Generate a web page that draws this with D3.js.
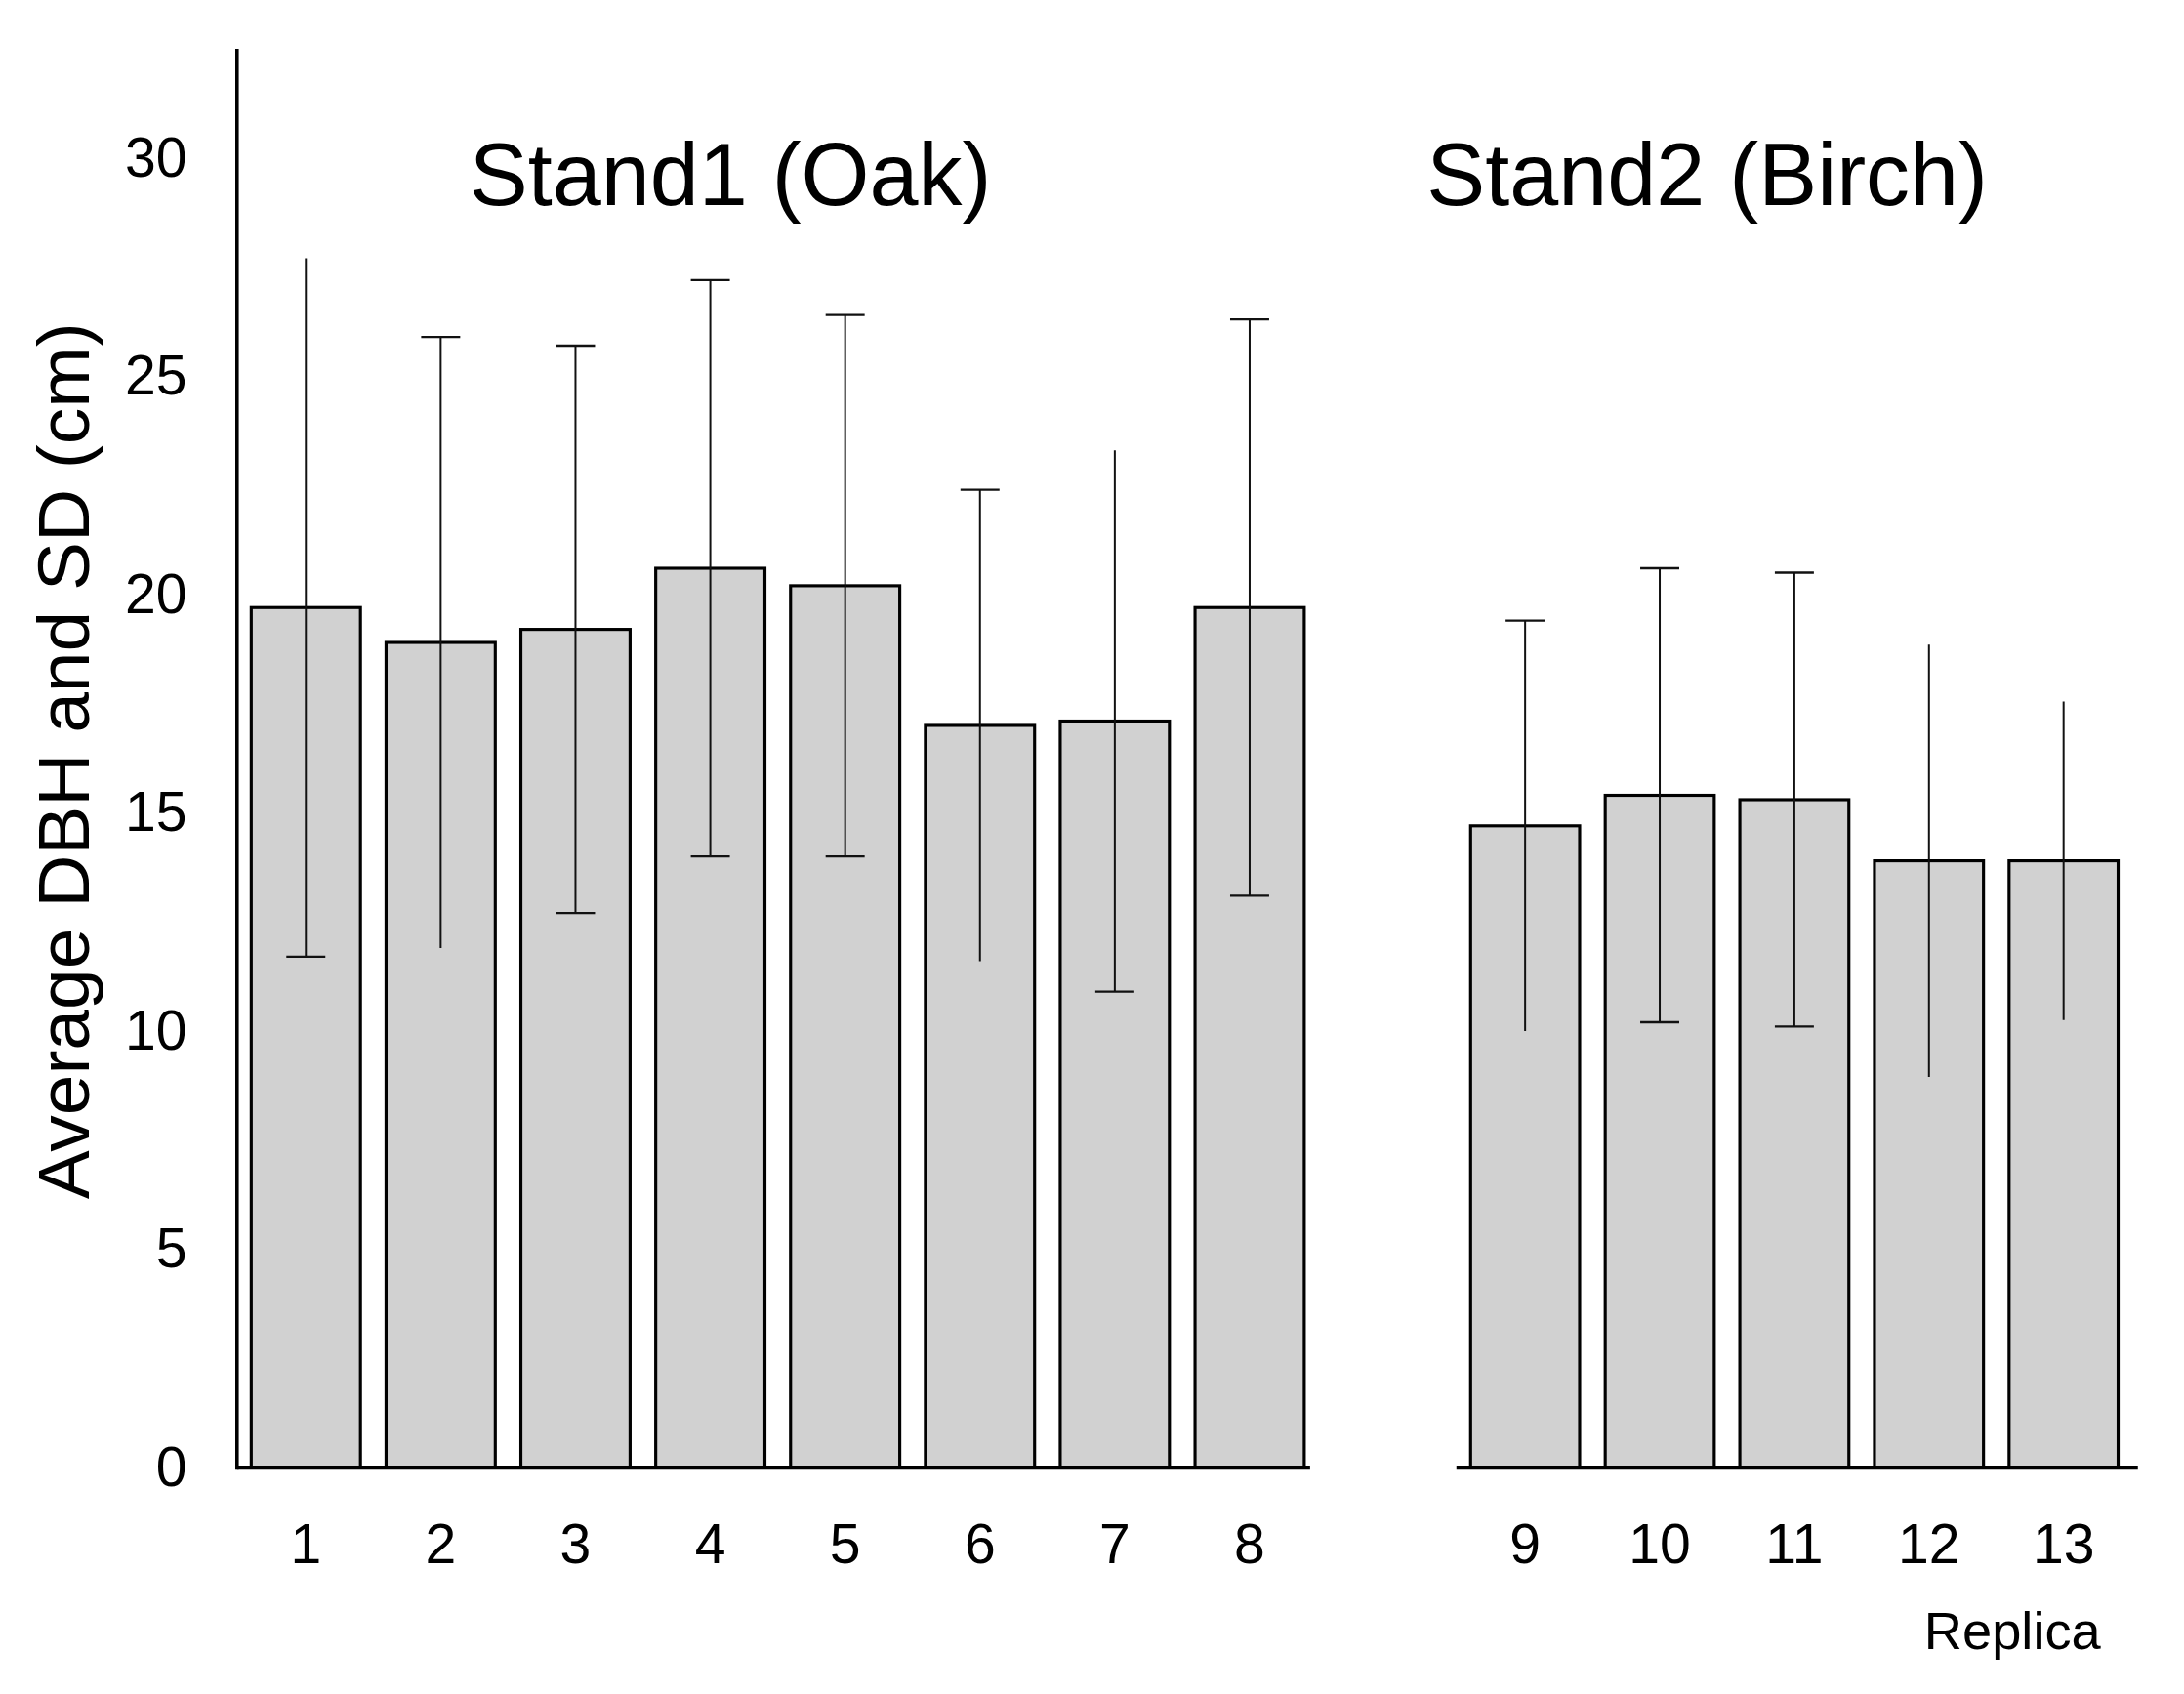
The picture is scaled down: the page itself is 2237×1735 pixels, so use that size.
<!DOCTYPE html>
<html>
<head>
<meta charset="utf-8">
<script src="https://cdn.jsdelivr.net/npm/d3@7"></script>
<style>
  body { margin: 0; background: #fff; }
  svg { display: block; }
  text { font-family: "Liberation Sans", Arial, sans-serif; fill: #000; }
</style>
</head>
<body>
<div id="chart"></div>
<script>
// replica numbers for each stand
const stand1 = ['1', '2', '3', '4', '5', '6', '7', '8'];
const stand2 = ['9', '10', '11', '12', '13'];
// average DBH (cm) and standard deviation
const mean1 = [19.7, 18.9, 19.2, 20.6, 20.2, 17.0, 17.1, 19.7];
const sd1 = [8.0, 7.0, 6.5, 6.6, 6.2, 5.4, 6.2, 6.6];
const mean2 = [14.7, 15.4, 15.3, 13.9, 13.9];
const sd2 = [4.7, 5.2, 5.2, 4.95, 3.65];
// which ends of the error bars have caps [top, bottom]
const caps1 = [[0, 1], [1, 0], [1, 1], [1, 1], [1, 1], [1, 0], [0, 1], [1, 1]];
const caps2 = [[1, 0], [1, 1], [1, 1], [0, 0], [0, 0]];
const yTicks = [0, 5, 10, 15, 20, 25, 30];

// drawing is done in a smaller frame, scaled up to the window
const W = 1567, H = 1215.5;
const svg = d3.select('#chart').append('svg')
    .attr('width', 2237)
    .attr('height', 1735)
    .attr('viewBox', `0 0 ${W} ${H}`);

const y = d3.scaleLinear().domain([0, 32.5]).range([1053, 35]);

const x1 = d3.scaleBand().domain(stand1).range([171, 945])
    .paddingInner(0.19).paddingOuter(0.095);
const x2 = d3.scaleBand().domain(stand2).range([1046, 1529])
    .paddingInner(0.19).paddingOuter(0.095);

function drawGroup(x, cats, means, sds, caps, base){
    let data = cats.map(function(c, i){
        return {cat: c, m: means[i], sd: sds[i], cap: caps[i]};
    });
    let g = svg.append('g');

    g.selectAll('rect').data(data).enter().append('rect')
        .attr('x', d => x(d.cat))
        .attr('y', d => y(d.m))
        .attr('width', x.bandwidth())
        .attr('height', d => y(0) - y(d.m))
        .attr('fill', '#d1d1d1')
        .attr('stroke', '#000')
        .attr('stroke-width', 2.2);

    // error bars
    let eb = g.selectAll('.err').data(data).enter().append('g').attr('class', 'err');
    eb.append('line')
        .attr('x1', d => x(d.cat) + x.bandwidth() / 2)
        .attr('x2', d => x(d.cat) + x.bandwidth() / 2)
        .attr('y1', d => y(d.m + d.sd))
        .attr('y2', d => y(d.m - d.sd))
        .attr('stroke', '#111')
        .attr('stroke-width', 1.4);
    eb.filter(d => d.cap[0]).append('line')
        .attr('x1', d => x(d.cat) + x.bandwidth() / 2 - 14)
        .attr('x2', d => x(d.cat) + x.bandwidth() / 2 + 14)
        .attr('y1', d => y(d.m + d.sd))
        .attr('y2', d => y(d.m + d.sd))
        .attr('stroke', '#111')
        .attr('stroke-width', 1.6);
    eb.filter(d => d.cap[1]).append('line')
        .attr('x1', d => x(d.cat) + x.bandwidth() / 2 - 14)
        .attr('x2', d => x(d.cat) + x.bandwidth() / 2 + 14)
        .attr('y1', d => y(d.m - d.sd))
        .attr('y2', d => y(d.m - d.sd))
        .attr('stroke', '#111')
        .attr('stroke-width', 1.6);

    // baseline
    g.append('line')
        .attr('x1', base[0]).attr('x2', base[1])
        .attr('y1', y(0)).attr('y2', y(0))
        .attr('stroke', '#000')
        .attr('stroke-width', 3);

    // category labels
    let ax = g.append('g')
        .attr('transform', `translate(0, ${y(0)})`)
        .call(d3.axisBottom(x).tickSize(0).tickPadding(40));
    ax.select('.domain').remove();
    ax.selectAll('text')
        .style('font-family', '"Liberation Sans", Arial, sans-serif')
        .attr('font-size', 40)
        .attr('fill', '#000');
}

drawGroup(x1, stand1, mean1, sd1, caps1, [170, 940]);
drawGroup(x2, stand2, mean2, sd2, caps2, [1045, 1534]);

// y axis: plain line, labels only
svg.append('line')
    .attr('x1', 170).attr('x2', 170)
    .attr('y1', y(32.5)).attr('y2', y(0) + 1.5)
    .attr('stroke', '#000')
    .attr('stroke-width', 2.5);
let yax = svg.append('g')
    .attr('transform', 'translate(170, 0)')
    .call(d3.axisLeft(y).tickValues(yTicks).tickSize(0).tickPadding(36));
yax.select('.domain').remove();
yax.selectAll('text')
    .style('font-family', '"Liberation Sans", Arial, sans-serif')
    .attr('font-size', 40)
    .attr('fill', '#000');

svg.append('text')
    .attr('transform', 'translate(64, 546) rotate(-90)')
    .attr('text-anchor', 'middle')
    .attr('font-size', 52.5)
    .text('Average DBH and SD (cm)');

svg.append('text')
    .attr('x', 524).attr('y', 147)
    .attr('text-anchor', 'middle')
    .attr('font-size', 63)
    .text('Stand1 (Oak)');
svg.append('text')
    .attr('x', 1225).attr('y', 147)
    .attr('text-anchor', 'middle')
    .attr('font-size', 63)
    .text('Stand2 (Birch)');

svg.append('text')
    .attr('x', 1444).attr('y', 1183)
    .attr('text-anchor', 'middle')
    .attr('font-size', 38)
    .text('Replica');
</script>
</body>
</html>
